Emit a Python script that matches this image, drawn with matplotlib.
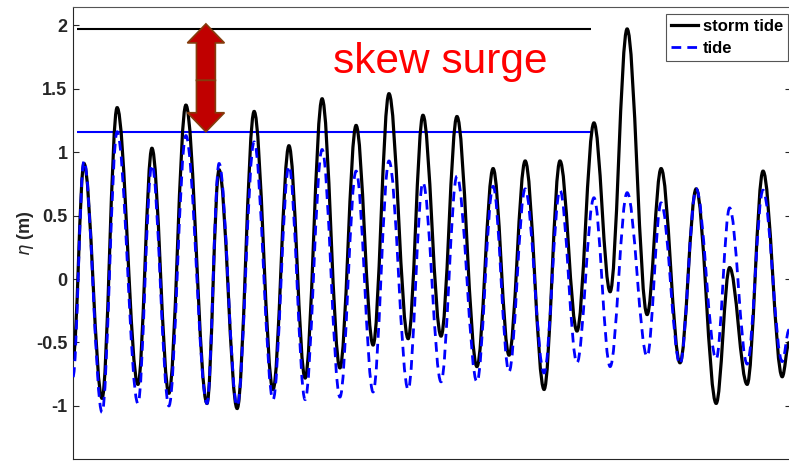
import numpy as np
import matplotlib
matplotlib.use("Agg")
import matplotlib.pyplot as plt
from matplotlib.patches import FancyArrow, PathPatch
from matplotlib.path import Path
from matplotlib.lines import Line2D

plt.rcParams["font.family"] = ["Liberation Sans", "DejaVu Sans"]

# High / low water times (hours) and levels (m)
t_hours = [0.0, 4.0, 10.6, 16.1, 23.7, 28.8, 35.0, 41.2, 48.9, 53.3, 59.9,
           66.1, 73.0, 78.8, 84.7, 90.9, 97.4, 103.3, 109.5, 115.3, 122.3,
           127.7, 134.3, 140.1, 147.4, 153.3, 159.1, 165.0, 171.9, 177.7,
           183.9, 190.1, 196.0, 202.2, 209.5, 214.6, 221.5, 227.4, 234.7,
           239.6, 246.0, 251.8, 258.8, 261.3]
storm_tide = [-0.63, 0.91, -0.94, 1.35, -0.83, 1.03, -0.90, 1.37, -0.98, 0.86,
              -1.02, 1.32, -0.87, 1.05, -0.78, 1.42, -0.70, 1.21, -0.52, 1.46,
              -0.47, 1.29, -0.45, 1.28, -0.69, 0.87, -0.60, 0.93, -0.87, 0.93,
              -0.41, 1.23, -0.10, 1.97, -0.28, 0.87, -0.66, 0.71, -0.98, 0.09,
              -0.83, 0.85, -0.77, -0.50]
tide = [-0.77, 0.93, -1.05, 1.16, -0.98, 0.90, -1.00, 1.13, -0.98, 0.91,
        -1.00, 1.08, -0.95, 0.89, -0.95, 1.02, -0.93, 0.85, -0.89, 0.93,
        -0.87, 0.76, -0.81, 0.81, -0.81, 0.73, -0.73, 0.71, -0.74, 0.70,
        -0.66, 0.64, -0.69, 0.68, -0.61, 0.60, -0.67, 0.71, -0.63, 0.56,
        -0.67, 0.70, -0.65, -0.40]

line_start, line_end = 1.5, 189.0   # extent of the max-level markers (h)
arrow_t = 48.5                      # where the skew surge arrow sits (h)


def smooth_path(t, v, k=0.36):
    """Cubic Bezier through the turning points, flat at each one."""
    verts = [(t[0], v[0])]
    codes = [Path.MOVETO]
    for i in range(1, len(t)):
        dt = t[i] - t[i - 1]
        verts += [(t[i - 1] + k * dt, v[i - 1]), (t[i] - k * dt, v[i]),
                  (t[i], v[i])]
        codes += [Path.CURVE4] * 3
    return Path(verts, codes)


fig = plt.figure(figsize=(7.89, 4.61), dpi=100)
ax = fig.add_axes([73 / 789, 2 / 461, 718 / 789, 452 / 461])

storm_max = max(storm_tide)
tide_max = max(tide)

# max-level reference lines
ax.hlines(storm_max, line_start, line_end, color="black", lw=1.5, zorder=2)
ax.hlines(tide_max, line_start, line_end, color="blue", lw=1.5, zorder=2)

storm_style = dict(color="black", lw=2.3)
tide_style = dict(color="blue", lw=2.0, ls=(0, (3.5, 2.2)))
ax.add_patch(PathPatch(smooth_path(t_hours, storm_tide), fill=False,
                       edgecolor=storm_style["color"], lw=storm_style["lw"],
                       zorder=3))
ax.add_patch(PathPatch(smooth_path(t_hours, tide), fill=False,
                       edgecolor=tide_style["color"], lw=tide_style["lw"],
                       ls=tide_style["ls"], zorder=4))

# double arrow between the two maxima
mid = (storm_max + tide_max) / 2
arrow_kw = dict(width=6.9, head_width=13.5, head_length=0.15,
                length_includes_head=True, facecolor="#C00000",
                edgecolor="#843C0C", lw=1.2, zorder=5)
ax.add_patch(FancyArrow(arrow_t, mid, 0, storm_max + 0.04 - mid, **arrow_kw))
ax.add_patch(FancyArrow(arrow_t, mid, 0, tide_max - mid, **arrow_kw))

ax.text(94.9, 1.62, "skew surge", color="red", fontsize=30.5,
        ha="left", va="baseline", zorder=6)

ax.set_xlim(0, 262.0)
ax.set_ylim(-1.418, 2.143)
ax.set_xticks([])
ax.set_yticks([-1, -0.5, 0, 0.5, 1, 1.5, 2])
ax.set_yticklabels(["-1", "-0.5", "0", "0.5", "1", "1.5", "2"])
ax.tick_params(axis="y", direction="in", length=4, width=0.8, right=True,
               labelsize=13, colors="#262626", pad=4)
for lab in ax.get_yticklabels():
    lab.set_fontweight("bold")
for sp in ax.spines.values():
    sp.set_color("#262626")
    sp.set_linewidth(0.8)
ax.spines["top"].set_color("#555555")

ax.set_ylabel(r"$\eta$ (m)", fontsize=13, fontweight="bold", color="#262626",
              labelpad=0)

handles = [Line2D([], [], **storm_style), Line2D([], [], **tide_style)]
leg = ax.legend(handles, ["storm tide", "tide"], loc="upper right",
                bbox_to_anchor=(0.9955, 0.985),
                prop={"weight": "bold", "size": 12},
                handlelength=1.6, handletextpad=0.3, borderpad=0.3,
                labelspacing=0.45, fancybox=False, framealpha=1,
                edgecolor="#555555", borderaxespad=0)
leg.get_frame().set_linewidth(0.8)

fig.savefig("out.png", dpi=100)
